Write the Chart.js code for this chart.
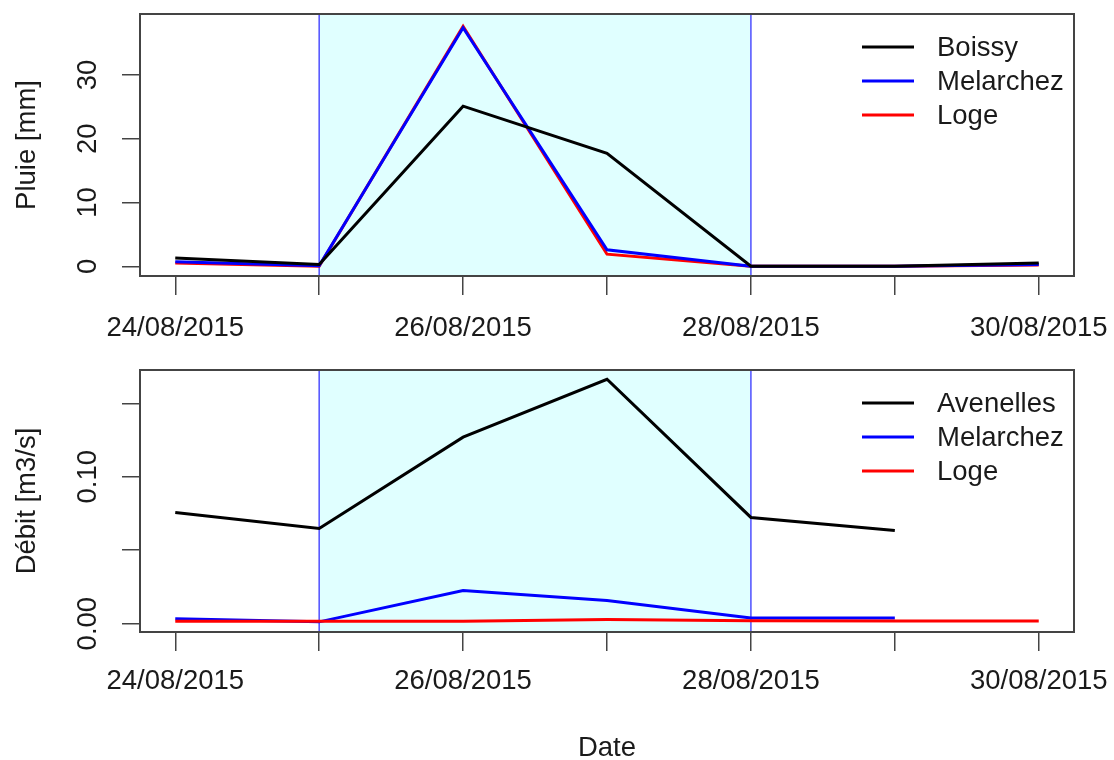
<!DOCTYPE html>
<html>
<head>
<meta charset="utf-8">
<script src="https://cdn.jsdelivr.net/npm/chart.js@4.4.1/dist/chart.umd.min.js"></script>
<style>
    body { margin: 0; background: #fff; overflow: hidden; }
    canvas { position: absolute; left: 0; }
    #rainChart { top: 0; }
    #flowChart { top: 355px; }
</style>
</head>
<body>
<canvas id="rainChart" width="1114" height="345"></canvas>
<canvas id="flowChart" width="1114" height="405"></canvas>
<script>
// days since 24/08/2015
const days = [0, 1, 2, 3, 4, 5, 6];
const dayLabels = ["24/08/2015", "25/08/2015", "26/08/2015", "27/08/2015",
    "28/08/2015", "29/08/2015", "30/08/2015"];

// event window (shaded)
const eventStart = 1;
const eventEnd = 4;

// rainfall [mm]
const rainBoissy = [1.3, 0.3, 25.1, 17.7, 0.0, 0.0, 0.5];
const rainMelarchez = [0.7, 0.1, 37.4, 2.6, 0.0, 0.0, 0.3];
const rainLoge = [0.5, 0.0, 37.6, 1.9, 0.0, 0.0, 0.2];

// discharge [m3/s]
const flowAvenelles = [0.0757, 0.0648, 0.127, 0.1664, 0.0723, 0.0634, null];
const flowMelarchez = [0.0034, 0.0012, 0.0225, 0.0158, 0.0039, 0.0039, null];
const flowLoge = [0.0016, 0.0016, 0.0016, 0.0028, 0.0020, 0.0018, 0.0018];

const rainTicks = [0, 10, 20, 30];
const rainTickLabels = ["0", "10", "20", "30"];
const flowTicks = [0, 0.05, 0.10, 0.15];
const flowTickLabels = ["0.00", "", "0.10", ""];

const FONT = "'Liberation Sans', Arial, sans-serif";
const INK = "#1a1a1a";

function pts(values) {
    return values.map((v, i) => ({ x: days[i], y: v }));
}

const frame = {
    id: "frame",
    beforeDatasetsDraw(chart) {
        const { ctx, chartArea: a, scales: { x } } = chart;
        const x0 = x.getPixelForValue(eventStart);
        const x1 = x.getPixelForValue(eventEnd);
        ctx.save();
        ctx.fillStyle = "#E0FFFF";
        ctx.fillRect(x0, a.top, x1 - x0, a.bottom - a.top);
        ctx.strokeStyle = "#4f4fff";
        ctx.lineWidth = 1.5;
        [x0, x1].forEach(px => {
            ctx.beginPath();
            ctx.moveTo(px, a.top);
            ctx.lineTo(px, a.bottom);
            ctx.stroke();
        });
        ctx.restore();
    },
    afterDatasetsDraw(chart, args, opts) {
        const { ctx, chartArea: a, scales: { x, y } } = chart;
        ctx.save();
        // box
        ctx.strokeStyle = "#444";
        ctx.lineWidth = 2;
        ctx.strokeRect(a.left, a.top, a.right - a.left, a.bottom - a.top);

        ctx.fillStyle = INK;
        ctx.font = `27.5px ${FONT}`;
        ctx.textAlign = "center";
        ctx.textBaseline = "middle";

        // x tick labels (every other day)
        days.forEach((d, i) => {
            if (i % 2 !== 0) return;
            ctx.fillText(dayLabels[i], x.getPixelForValue(d), a.bottom + opts.xLabelOffset);
        });

        // y tick labels, rotated like R
        opts.yTicks.forEach((v, i) => {
            if (!opts.yLabels[i]) return;
            ctx.save();
            ctx.translate(88, y.getPixelForValue(v));
            ctx.rotate(-Math.PI / 2);
            ctx.fillText(opts.yLabels[i], 0, 0);
            ctx.restore();
        });

        // y title
        ctx.save();
        ctx.translate(27, (a.top + a.bottom) / 2);
        ctx.rotate(-Math.PI / 2);
        ctx.fillText(opts.yTitle, 0, 0);
        ctx.restore();

        if (opts.xTitle) {
            ctx.fillText(opts.xTitle, (a.left + a.right) / 2, opts.xTitleY);
        }

        // legend
        ctx.textAlign = "left";
        opts.names.forEach((name, i) => {
            const ly = a.top + 33 + i * 34;
            ctx.strokeStyle = opts.colors[i];
            ctx.lineWidth = 3;
            ctx.beginPath();
            ctx.moveTo(862, ly);
            ctx.lineTo(914, ly);
            ctx.stroke();
            ctx.fillText(name, 937, ly + 1);
        });
        ctx.restore();
    }
};

function makePanel(id, datasets, yMin, yMax, yTicks, yLabels, frameOpts, padTop, xHeight) {
    new Chart(document.getElementById(id), {
        type: "line",
        data: { datasets },
        plugins: [frame],
        options: {
            responsive: false,
            animation: false,
            devicePixelRatio: 1,
            layout: { padding: { top: padTop, right: 40, left: 0, bottom: 0 } },
            elements: { point: { radius: 0 }, line: { tension: 0, borderWidth: 3 } },
            plugins: {
                legend: { display: false },
                tooltip: { enabled: false },
                frame: Object.assign({ yTicks, yLabels }, frameOpts)
            },
            scales: {
                x: {
                    type: "linear",
                    min: -0.245,
                    max: 6.245,
                    afterBuildTicks: s => { s.ticks = days.map(v => ({ value: v })); },
                    afterFit: s => { s.height = xHeight; },
                    border: { display: false },
                    grid: { drawOnChartArea: false, drawTicks: true, tickLength: 19, color: "#444", lineWidth: 1.5 },
                    ticks: { display: false }
                },
                y: {
                    type: "linear",
                    min: yMin,
                    max: yMax,
                    afterBuildTicks: s => { s.ticks = yTicks.map(v => ({ value: v })); },
                    afterFit: s => { s.width = 140; },
                    border: { display: false },
                    grid: { drawOnChartArea: false, drawTicks: true, tickLength: 18, color: "#444", lineWidth: 1.5 },
                    ticks: { display: false }
                }
            }
        }
    });
}

makePanel("rainChart", [
    { label: "Boissy", data: pts(rainBoissy), borderColor: "#000000" },
    { label: "Melarchez", data: pts(rainMelarchez), borderColor: "#0000FF" },
    { label: "Loge", data: pts(rainLoge), borderColor: "#FF0000" }
], -1.52, 39.55, rainTicks, rainTickLabels, {
    yTitle: "Pluie [mm]",
    names: ["Boissy", "Melarchez", "Loge"],
    colors: ["#000000", "#0000FF", "#FF0000"],
    xLabelOffset: 52.5
}, 14, 69);

makePanel("flowChart", [
    { label: "Avenelles", data: pts(flowAvenelles), borderColor: "#000000", order: 0 },
    { label: "Melarchez", data: pts(flowMelarchez), borderColor: "#0000FF", order: 2 },
    { label: "Loge", data: pts(flowLoge), borderColor: "#FF0000", order: 1 }
], -0.0057, 0.1727, flowTicks, flowTickLabels, {
    yTitle: "Débit [m3/s]",
    names: ["Avenelles", "Melarchez", "Loge"],
    colors: ["#000000", "#0000FF", "#FF0000"],
    xLabelOffset: 49.5,
    xTitle: "Date",
    xTitleY: 393
}, 15, 128);
</script>
</body>
</html>
